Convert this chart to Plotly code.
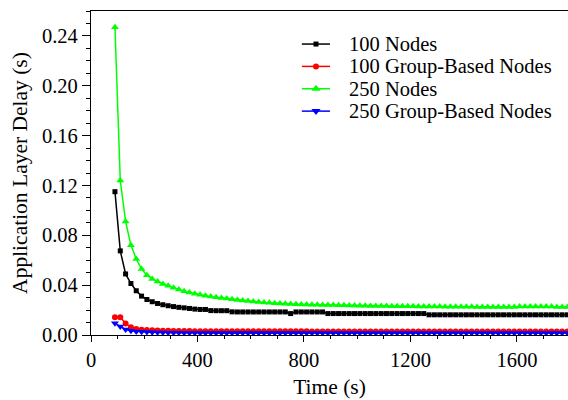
import plotly.graph_objects as go

time_s = [90 + 20 * i for i in range(86)]

nodes_100 = [
    0.115, 0.0675, 0.049, 0.0413, 0.0355, 0.0312, 0.0285, 0.0267, 0.0253, 0.0243,
    0.0235, 0.0228, 0.0222, 0.0218, 0.0213, 0.0208, 0.0205, 0.0205, 0.0196, 0.0195,
    0.0195, 0.0195, 0.0186, 0.0185, 0.0185, 0.0185, 0.0185, 0.0185, 0.0185, 0.0185,
    0.0185, 0.0185, 0.0185, 0.0172, 0.0185, 0.0185, 0.0185, 0.0185, 0.0185, 0.0185,
    0.0172, 0.0172, 0.0172, 0.0172, 0.0172, 0.0172, 0.0172, 0.0172, 0.0172, 0.0172,
    0.0172, 0.0172, 0.0172, 0.0172, 0.0172, 0.0172, 0.0172, 0.0172, 0.0172, 0.0162,
    0.0162, 0.0162, 0.0162, 0.0162, 0.0162, 0.0162, 0.0162, 0.0162, 0.0162, 0.0162,
    0.0162, 0.0162, 0.0162, 0.0162, 0.0162, 0.0162, 0.0162, 0.0162, 0.0162, 0.0162,
    0.0162, 0.0162, 0.0162, 0.0162, 0.0162, 0.0162,
]

group_100 = [
    0.0142, 0.0142, 0.0092, 0.0062, 0.0048, 0.0042, 0.0040, 0.0038, 0.0036, 0.0035,
    0.0034, 0.0033, 0.0032, 0.0032, 0.0032, 0.0031, 0.0031, 0.0031, 0.0031, 0.0031,
    0.0031, 0.0030, 0.0030, 0.0030, 0.0030, 0.0030, 0.0030, 0.0030, 0.0030, 0.0030,
    0.0030, 0.0030, 0.0030, 0.0030, 0.0030, 0.0030, 0.0030, 0.0029, 0.0029, 0.0029,
    0.0029, 0.0029, 0.0029, 0.0029, 0.0029, 0.0029, 0.0029, 0.0029, 0.0029, 0.0029,
    0.0029, 0.0029, 0.0029, 0.0029, 0.0029, 0.0029, 0.0029, 0.0029, 0.0029, 0.0028,
    0.0028, 0.0028, 0.0028, 0.0028, 0.0028, 0.0028, 0.0028, 0.0028, 0.0028, 0.0028,
    0.0028, 0.0028, 0.0028, 0.0028, 0.0028, 0.0028, 0.0028, 0.0028, 0.0028, 0.0028,
    0.0028, 0.0028, 0.0028, 0.0028, 0.0028, 0.0028,
]

nodes_250 = [
    0.247, 0.124, 0.091, 0.072, 0.061, 0.053, 0.048, 0.045, 0.043, 0.041,
    0.0395, 0.038, 0.0365, 0.0352, 0.0342, 0.0332, 0.0322, 0.0315, 0.0308, 0.0302,
    0.0297, 0.0292, 0.0286, 0.0281, 0.0277, 0.0273, 0.0269, 0.0265, 0.0261, 0.0258,
    0.0255, 0.0253, 0.0250, 0.0248, 0.0246, 0.0245, 0.0244, 0.0243, 0.0242, 0.0241,
    0.0240, 0.0240, 0.0239, 0.0238, 0.0237, 0.0236, 0.0235, 0.0234, 0.0233, 0.0233,
    0.0232, 0.0232, 0.0231, 0.0231, 0.0230, 0.0230, 0.0230, 0.0229, 0.0229, 0.0228,
    0.0228, 0.0228, 0.0227, 0.0227, 0.0227, 0.0226, 0.0226, 0.0226, 0.0225, 0.0225,
    0.0225, 0.0225, 0.0225, 0.0225, 0.0225, 0.0225, 0.0228, 0.0228, 0.0228, 0.0228,
    0.0228, 0.0228, 0.0228, 0.0224, 0.0224, 0.0224,
]

group_250 = [
    0.0094, 0.0068, 0.0045, 0.0034, 0.0029, 0.0026, 0.0024, 0.0022, 0.0021, 0.0020,
    0.0019, 0.0018, 0.0018, 0.0017, 0.0017, 0.0017, 0.0016, 0.0016, 0.0016, 0.0016,
    0.0016, 0.0016, 0.0016, 0.0016, 0.0016, 0.0016, 0.0016, 0.0016, 0.0016, 0.0016,
    0.0016, 0.0016, 0.0016, 0.0016, 0.0016, 0.0016, 0.0016, 0.0016, 0.0016, 0.0016,
    0.0016, 0.0016, 0.0016, 0.0016, 0.0016, 0.0016, 0.0016, 0.0016, 0.0016, 0.0016,
    0.0016, 0.0016, 0.0016, 0.0016, 0.0016, 0.0016, 0.0016, 0.0016, 0.0016, 0.0016,
    0.0016, 0.0016, 0.0016, 0.0016, 0.0016, 0.0016, 0.0016, 0.0016, 0.0016, 0.0016,
    0.0016, 0.0016, 0.0016, 0.0016, 0.0016, 0.0016, 0.0016, 0.0016, 0.0016, 0.0016,
    0.0016, 0.0016, 0.0016, 0.0016, 0.0016, 0.0016,
]

series_names = ["100 Nodes", "100 Group-Based Nodes", "250 Nodes", "250 Group-Based Nodes"]
series_values = [nodes_100, group_100, nodes_250, group_250]

colors = ["#000000", "#ff0000", "#00ff00", "#0000ff"]
symbols = ["square", "circle", "triangle-up", "triangle-down"]
sizes = [5, 6, 7, 7]
legend_sizes = [5, 6, 8, 8]

FONT = "Liberation Serif, Times New Roman, serif"

fig = go.Figure()
for name, vals, color, sym, size in zip(series_names, series_values, colors, symbols, sizes):
    fig.add_trace(go.Scatter(
        x=time_s, y=vals, name=name, mode="lines+markers",
        line=dict(color=color, width=1.5),
        marker=dict(symbol=sym, size=size, color=color, line=dict(width=0)),
        showlegend=False,
    ))

# Hand-built legend (tighter row spacing than Plotly's built-in legend)
leg_rows_y = [0.898, 0.829, 0.760, 0.691]
line_x0, line_x1, mark_x, text_x = 0.442, 0.501, 0.4717, 0.536
for name, color, sym, lsize, ry in zip(series_names, colors, symbols, legend_sizes, leg_rows_y):
    fig.add_shape(type="line", xref="paper", yref="paper",
                  x0=line_x0, x1=line_x1, y0=ry, y1=ry,
                  line=dict(color=color, width=1.5))
    fig.add_trace(go.Scatter(
        x=[mark_x], y=[ry], xaxis="x2", yaxis="y2", mode="markers",
        marker=dict(symbol=sym, size=lsize, color=color, line=dict(width=0)),
        showlegend=False, hoverinfo="skip",
    ))
    fig.add_annotation(xref="paper", yref="paper", x=text_x, y=ry,
                       xanchor="left", yanchor="middle", showarrow=False,
                       text=name, font=dict(family=FONT, size=20.5, color="black"))

fig.update_layout(
    template="none",
    width=568, height=400,
    margin=dict(l=91, r=0, t=11, b=65, pad=0),
    paper_bgcolor="white", plot_bgcolor="white",
    font=dict(family=FONT, size=20, color="black"),
    showlegend=False,
    xaxis=dict(
        range=[0, 1792], showgrid=False, zeroline=False, automargin=False,
        showline=True, linecolor="black", linewidth=1.3, mirror=True,
        ticks="outside", ticklen=6, tickwidth=1.3, tickcolor="black",
        tickmode="linear", tick0=0, dtick=400,
        minor=dict(ticks="outside", ticklen=3, tickwidth=1.3, tickcolor="black", dtick=100, tick0=0),
        title=dict(text="Time (s)", font=dict(family=FONT, size=21.5), standoff=9),
        tickfont=dict(family=FONT, size=20.5),
    ),
    yaxis=dict(
        range=[0, 0.26], showgrid=False, zeroline=False, automargin=False,
        showline=True, linecolor="black", linewidth=1.3,
        ticks="outside", ticklen=8, tickwidth=1.3, tickcolor="black",
        tickmode="linear", tick0=0, dtick=0.04, tickformat=".2f",
        minor=dict(ticks="outside", ticklen=4, tickwidth=1.3, tickcolor="black", dtick=0.01, tick0=0),
        title=dict(text="Application Layer Delay (s)", font=dict(family=FONT, size=21.5), standoff=8),
        tickfont=dict(family=FONT, size=20.5),
    ),
    xaxis2=dict(overlaying="x", range=[0, 1], visible=False, fixedrange=True),
    yaxis2=dict(overlaying="y", range=[0, 1], visible=False, fixedrange=True),
)

fig.write_html("out.html", config={"displayModeBar": False},
               post_script="document.body.style.margin='0px';")
